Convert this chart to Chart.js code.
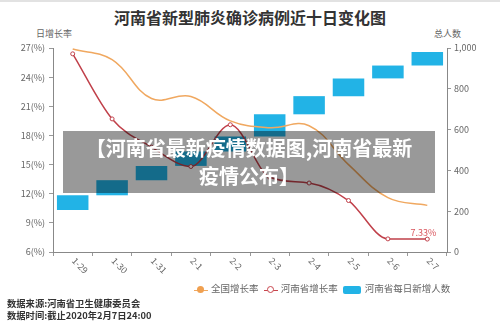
<!DOCTYPE html>
<html>
<head>
<meta charset="utf-8">
<script src="https://cdn.jsdelivr.net/npm/chart.js@4"></script>
<style>
  html, body { margin: 0; padding: 0; background: #fff; }
  #wrap { position: relative; width: 500px; height: 325px; overflow: hidden; font-family: "Noto Sans CJK SC", sans-serif; }
  #topline { position: absolute; left: 0; top: 0; width: 500px; height: 2px; background: #e2e2e2; }
  #title { position: absolute; left: 0; top: 5px; width: 500px; text-align: center; font-size: 16px; font-weight: bold; color: #333; line-height: 24px; }
  .axtitle { position: absolute; top: 27px; font-size: 9px; color: #666; line-height: 14px; }
  #chart { position: absolute; left: 0; top: 0; }
  #legend { position: absolute; left: 194px; top: 280px; font-size: 9.5px; color: #666; line-height: 14px; white-space: nowrap; }
  #legend span.item { display: inline-block; margin-right: 3px; vertical-align: middle; }
  .mk { display: inline-block; position: relative; width: 14px; height: 10px; vertical-align: middle; margin-right: 3px; }
  .mk i { position: absolute; left: 0; top: 5px; width: 14px; height: 1px; }
  .mk b { position: absolute; left: 3px; top: 1px; width: 7px; height: 7px; border-radius: 50%; box-sizing: border-box; }
  .box { display: inline-block; width: 18px; height: 8px; border-radius: 2px; background: #22b3e6; vertical-align: middle; margin-right: 4px; }
  #source { position: absolute; left: 7px; top: 297px; font-size: 9.3px; color: #333; line-height: 12px; font-weight: bold; }
  #overlay { position: absolute; left: 63px; top: 131px; width: 372px; height: 62px; background: rgba(0,0,0,0.4);
             color: #fff; font-weight: bold; font-size: 20px; line-height: 28px; text-align: center; padding-top: 3px; box-sizing: border-box; }
</style>
</head>
<body>
<div id="wrap">
  <div id="topline"></div>
  <div id="title">河南省新型肺炎确诊病例近十日变化图</div>
  <div class="axtitle" style="left:36px">日增长率</div>
  <div class="axtitle" style="left:434px">总人数</div>
  <canvas id="chart" width="500" height="325"></canvas>
  <div id="legend">
    <span class="item"><span class="mk"><i style="background:#f0a860"></i><b style="background:#f0a050"></b></span>全国增长率</span>
    <span class="item"><span class="mk"><i style="background:#c8454d"></i><b style="background:#fff;border:1px solid #c8454d"></b></span>河南省增长率</span>
    <span class="item"><span class="box"></span>河南省每日新增人数</span>
  </div>
  <div id="source">数据来源:河南省卫生健康委员会<br>数据时间:截止2020年2月7日24:00</div>
  <div id="overlay">【河南省最新疫情数据图,河南省最新<br>疫情公布】</div>
</div>
<script>
// Henan: last ten days
const dates = ['1-29', '1-30', '1-31', '2-1', '2-2', '2-3', '2-4', '2-5', '2-6', '2-7'];
const nationalRate = [26.9, 25.8, 21.8, 22.0, 19.5, 18.8, 19.0, 15.0, 11.6, 10.8];
const henanRate = [26.4, 19.7, 16.8, 14.8, 19.1, 13.7, 13.1, 11.3, 7.35, 7.33];
// cumulative totals before and after each day's new cases
const totalBefore = [206, 278, 352, 422, 493, 566, 675, 764, 851, 914];
const totalAfter = [278, 352, 422, 493, 566, 675, 764, 851, 914, 981];
const rateTicks = [6, 9, 12, 15, 18, 21, 24, 27];
const totalTicks = [0, 200, 400, 600, 800, 1000];

Chart.defaults.font.family = '"Noto Sans CJK SC", "Noto Sans", sans-serif';
Chart.defaults.color = '#666';

// rotated date labels, reading down to the right
const dateLabels = {
  id: 'dateLabels',
  afterDraw(chart) {
    const ctx = chart.ctx;
    const x = chart.scales.x;
    ctx.save();
    ctx.font = '9px "Noto Sans CJK SC", sans-serif';
    ctx.fillStyle = '#666';
    ctx.textAlign = 'left';
    ctx.textBaseline = 'middle';
    dates.forEach((d, i) => {
      ctx.save();
      ctx.translate(x.getPixelForValue(i) + 1, x.top + 7);
      ctx.rotate(Math.PI / 4);
      ctx.fillText(d, 0, 0);
      ctx.restore();
    });
    // last value tag on the Henan line
    const pts = chart.getDatasetMeta(1).data;
    const last = pts[pts.length - 1];
    ctx.fillStyle = '#d9545c';
    ctx.textAlign = 'center';
    ctx.textBaseline = 'bottom';
    ctx.fillText(henanRate[henanRate.length - 1].toFixed(2) + '%', last.x - 4, last.y - 2);
    ctx.restore();
  }
};

new Chart(document.getElementById('chart'), {
  type: 'bar',
  data: {
    labels: dates,
    datasets: [
      {
        type: 'line',
        label: '全国增长率',
        data: nationalRate,
        yAxisID: 'y',
        borderColor: '#f0a860',
        backgroundColor: '#f0a050',
        borderWidth: 1.5,
        pointRadius: 0,
        tension: 0.4,
        fill: false
      },
      {
        type: 'line',
        label: '河南省增长率',
        data: henanRate,
        yAxisID: 'y',
        borderColor: '#c0404a',
        backgroundColor: '#fff',
        borderWidth: 1.5,
        pointRadius: 2,
        pointBorderWidth: 1,
        pointBackgroundColor: '#fff',
        cubicInterpolationMode: 'monotone',
        fill: false
      },
      {
        label: '河南省每日新增人数',
        data: totalBefore.map((v, i) => [v, totalAfter[i]]),
        yAxisID: 'y1',
        backgroundColor: '#22b3e6',
        borderWidth: 0,
        barPercentage: 0.8,
        categoryPercentage: 1
      }
    ]
  },
  options: {
    responsive: false,
    animation: false,
    layout: { padding: { top: 48, left: 0, right: 0, bottom: 0 } },
    plugins: {
      legend: { display: false },
      tooltip: { enabled: false }
    },
    scales: {
      x: {
        afterFit: s => { s.height = 73; },
        ticks: { display: false },
        grid: { drawOnChartArea: false, drawTicks: true, tickLength: 4, color: '#999', offset: true },
        border: { color: '#888' }
      },
      y: {
        position: 'left',
        min: 6,
        max: 27,
        afterFit: s => { s.width = 53; },
        afterBuildTicks: s => { s.ticks = rateTicks.map(v => ({ value: v })); },
        ticks: {
          padding: 4,
          font: { size: 9 },
          color: '#666',
          callback: v => v + '(%)'
        },
        grid: { drawOnChartArea: false, tickLength: 4, color: '#999' },
        border: { color: '#888' }
      },
      y1: {
        position: 'right',
        min: 0,
        max: 1000,
        afterFit: s => { s.width = 53; },
        afterBuildTicks: s => { s.ticks = totalTicks.map(v => ({ value: v })); },
        ticks: {
          padding: 3,
          font: { size: 9 },
          color: '#666',
          callback: v => v.toLocaleString('en-US')
        },
        grid: { drawOnChartArea: false, tickLength: 4, color: '#999' },
        border: { color: '#888' }
      }
    }
  },
  plugins: [dateLabels]
});
</script>
</body>
</html>
